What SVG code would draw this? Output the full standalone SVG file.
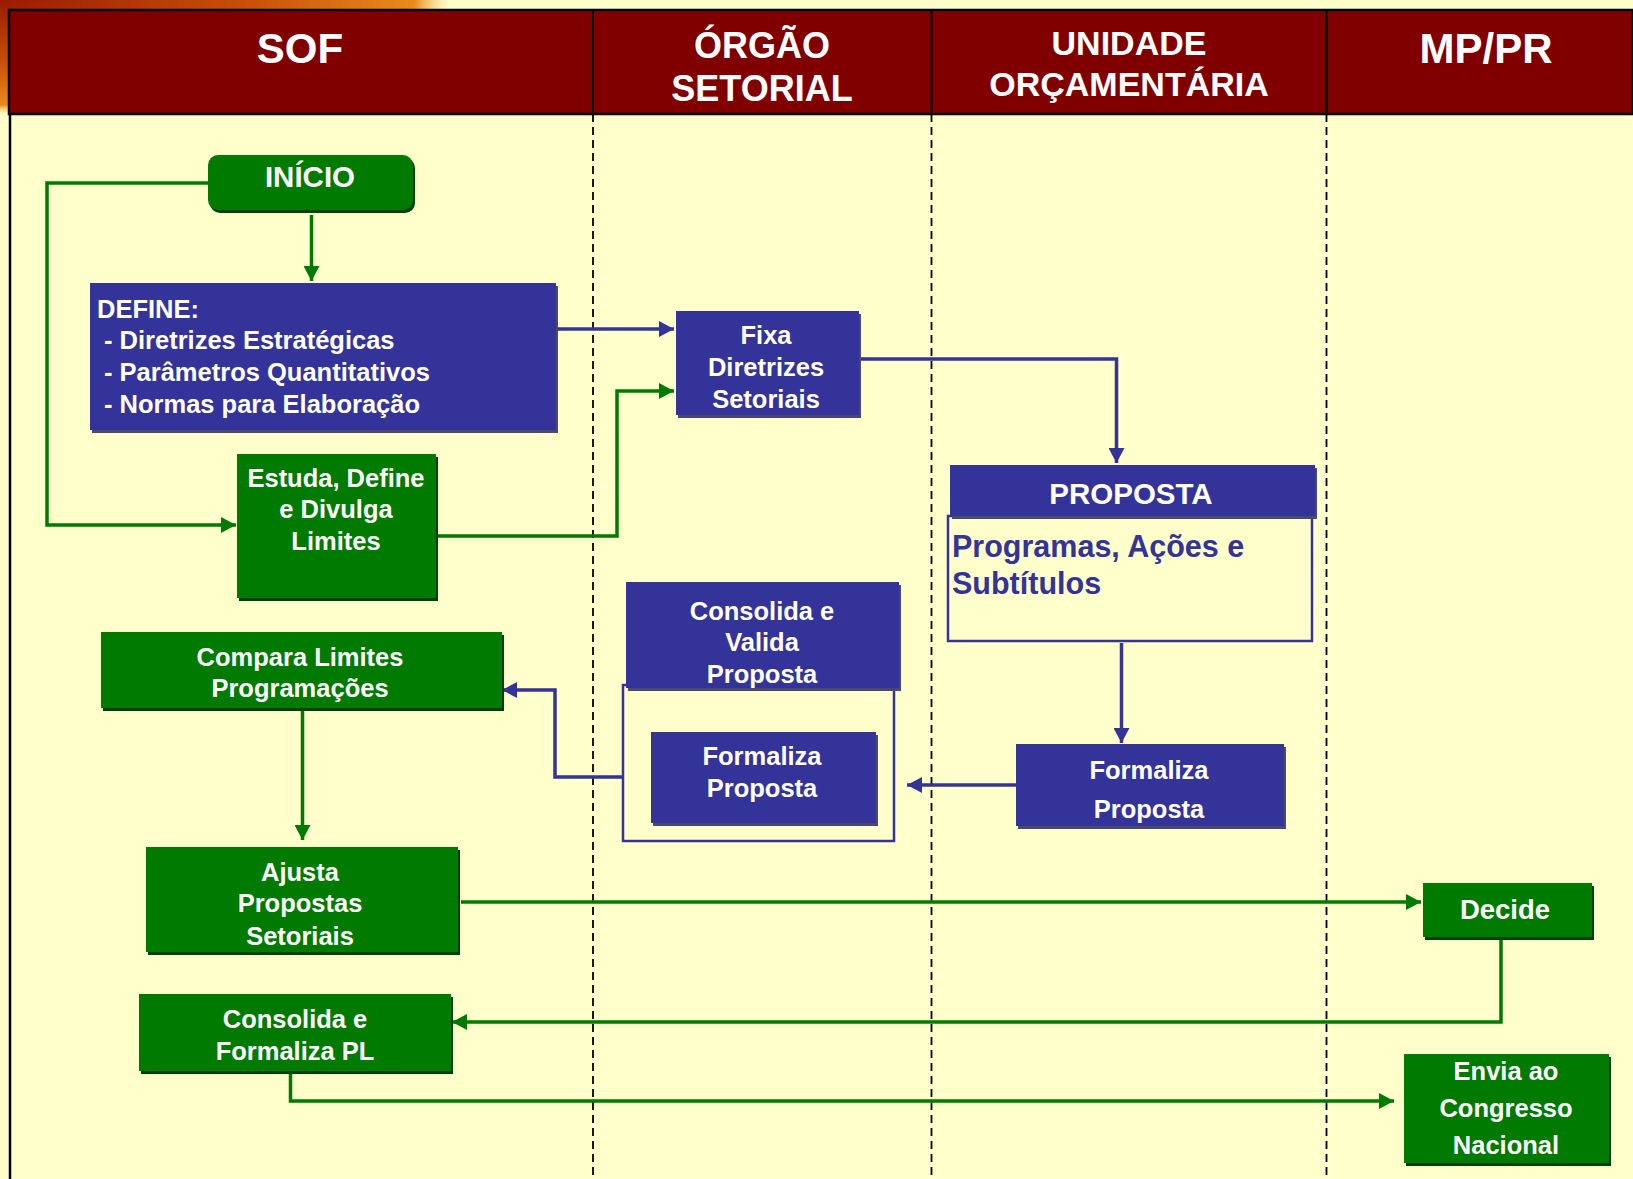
<svg xmlns="http://www.w3.org/2000/svg" width="1633" height="1179" viewBox="0 0 1633 1179">
<defs>
<radialGradient id="corner" cx="0.5" cy="0.5" r="0.5">
<stop offset="0" stop-color="#9A1A00"/>
<stop offset="0.55" stop-color="#C8500A"/>
<stop offset="0.92" stop-color="#E88A1C"/>
<stop offset="1" stop-color="#F6C060" stop-opacity="0"/>
</radialGradient>
<marker id="ag" markerUnits="userSpaceOnUse" markerWidth="16" markerHeight="16" refX="15" refY="8" orient="auto">
<path d="M0,0 L15,8 L0,16 z" fill="#007A00"/>
</marker>
<marker id="ab" markerUnits="userSpaceOnUse" markerWidth="16" markerHeight="16" refX="15" refY="8" orient="auto">
<path d="M0,0 L15,8 L0,16 z" fill="#333399"/>
</marker>
<style>
.hdr{font-family:"Liberation Sans",Arial,sans-serif;font-weight:bold;fill:#fff;text-anchor:middle}
.t{font-family:"Liberation Sans",Arial,sans-serif;font-weight:bold;font-size:25.5px;fill:#fff;text-anchor:middle}
.tl{font-family:"Liberation Sans",Arial,sans-serif;font-weight:bold;font-size:25.5px;fill:#fff}
.bt{font-family:"Liberation Sans",Arial,sans-serif;font-weight:bold;font-size:30.5px;fill:#333399}
.g{fill:#007A00}
.b{fill:#333399}
.gs{fill:#004000}
.bs{fill:#4a4a6e}
.out{fill:none;stroke:#333399;stroke-width:2.5}
.cg{fill:none;stroke:#007A00;stroke-width:3.5;marker-end:url(#ag)}
.cb{fill:none;stroke:#333399;stroke-width:3.5;marker-end:url(#ab)}
.lane{stroke:#000;stroke-width:1.8;stroke-dasharray:8 5}
</style>
</defs>
<rect x="0" y="0" width="1633" height="1179" fill="#FFFFCC"/>
<ellipse cx="0" cy="0" rx="450" ry="114" fill="url(#corner)"/>

<g id="header">
<rect x="9" y="10" width="1624" height="104" fill="#800000" stroke="#000" stroke-width="2.5"/>
<line x1="593" y1="10" x2="593" y2="114" stroke="#000" stroke-width="2"/>
<line x1="931.5" y1="10" x2="931.5" y2="114" stroke="#000" stroke-width="2"/>
<line x1="1326.5" y1="10" x2="1326.5" y2="114" stroke="#000" stroke-width="2"/>
<text class="hdr" x="300" y="63" font-size="42">SOF</text>
<text class="hdr" x="762" y="58" font-size="36">ÓRGÃO</text>
<text class="hdr" x="762" y="101" font-size="36">SETORIAL</text>
<text class="hdr" x="1129" y="55" font-size="34">UNIDADE</text>
<text class="hdr" x="1129" y="96" font-size="34">ORÇAMENTÁRIA</text>
<text class="hdr" x="1486" y="63" font-size="42">MP/PR</text>
</g>

<g id="lanes">
<line x1="10" y1="114" x2="10" y2="1179" stroke="#000" stroke-width="2.5"/>
<line class="lane" x1="593" y1="114" x2="593" y2="1179"/>
<line class="lane" x1="931.5" y1="114" x2="931.5" y2="1179"/>
<line class="lane" x1="1326.5" y1="114" x2="1326.5" y2="1179"/>
</g>

<g id="connectors">
<path class="cg" d="M311.5,215 L311.5,281"/>
<path class="cg" d="M208,183 L47,183 L47,525 L236,525"/>
<path class="cb" d="M556,329 L674,329"/>
<path class="cg" d="M436,536 L617,536 L617,391 L674,391"/>
<path class="cb" d="M859,359 L1116.5,359 L1116.5,463"/>
<path class="cb" d="M1121.5,643 L1121.5,743"/>
<path class="cb" d="M1016,785 L907,785"/>
<path class="cb" d="M623,777 L555,777 L555,690 L502,690" stroke-width="3"/>
<path class="cg" d="M302.5,708 L302.5,840"/>
<path class="cg" d="M461,902 L1421,902"/>
<path class="cg" d="M1501,937 L1501,1022 L452,1022"/>
<path class="cg" d="M290.5,1071 L290.5,1101 L1394,1101"/>
</g>

<g id="inicio">
<rect class="gs" x="210" y="158" width="205" height="55" rx="10"/>
<rect class="g" x="208" y="155" width="205" height="55" rx="10"/>
<text class="t" x="310" y="187" style="font-size:29.5px">INÍCIO</text>
</g>

<g id="define">
<rect class="bs" x="92" y="286" width="466" height="147"/>
<rect class="b" x="90" y="283" width="466" height="147"/>
<text class="tl" x="97" y="318">DEFINE:</text>
<text class="tl" x="104" y="349">- Diretrizes Estratégicas</text>
<text class="tl" x="104" y="381">- Parâmetros Quantitativos</text>
<text class="tl" x="104" y="413">- Normas para Elaboração</text>
</g>

<g id="fixa">
<rect class="bs" x="678" y="314" width="183" height="104"/>
<rect class="b" x="676" y="311" width="183" height="104"/>
<text class="t" x="766" y="344">Fixa</text>
<text class="t" x="766" y="376">Diretrizes</text>
<text class="t" x="766" y="408">Setoriais</text>
</g>

<g id="estuda">
<rect class="gs" x="239" y="457" width="199" height="144"/>
<rect class="g" x="237" y="454" width="199" height="144"/>
<text class="t" x="336" y="487">Estuda, Define</text>
<text class="t" x="336" y="518">e Divulga</text>
<text class="t" x="336" y="550">Limites</text>
</g>

<g id="proposta">
<rect class="out" x="948" y="516" width="364" height="125"/>
<rect class="bs" x="952" y="468" width="365" height="51"/>
<rect class="b" x="950" y="465" width="365" height="51"/>
<text class="t" x="1131" y="504" style="font-size:29.5px">PROPOSTA</text>
<text class="bt" x="952" y="557">Programas, Ações e</text>
<text class="bt" x="952" y="594">Subtítulos</text>
</g>

<g id="consolida-valida">
<rect class="out" x="623" y="685" width="271" height="156" stroke-width="2"/>
<rect class="bs" x="628" y="585" width="273" height="106"/>
<rect class="b" x="626" y="582" width="273" height="106"/>
<text class="t" x="762" y="620">Consolida e</text>
<text class="t" x="762" y="651">Valida</text>
<text class="t" x="762" y="683">Proposta</text>
</g>

<g id="formaliza-os">
<rect class="bs" x="653" y="735" width="225" height="91"/>
<rect class="b" x="651" y="732" width="225" height="91"/>
<text class="t" x="762" y="765">Formaliza</text>
<text class="t" x="762" y="797">Proposta</text>
</g>

<g id="compara">
<rect class="gs" x="103" y="635" width="401" height="76"/>
<rect class="g" x="101" y="632" width="401" height="76"/>
<text class="t" x="300" y="666">Compara Limites</text>
<text class="t" x="300" y="697">Programações</text>
</g>

<g id="formaliza-uo">
<rect class="bs" x="1018" y="747" width="268" height="82"/>
<rect class="b" x="1016" y="744" width="268" height="82"/>
<text class="t" x="1149" y="779">Formaliza</text>
<text class="t" x="1149" y="818">Proposta</text>
</g>

<g id="ajusta">
<rect class="gs" x="148" y="850" width="312" height="105"/>
<rect class="g" x="146" y="847" width="312" height="105"/>
<text class="t" x="300" y="881">Ajusta</text>
<text class="t" x="300" y="912">Propostas</text>
<text class="t" x="300" y="945">Setoriais</text>
</g>

<g id="decide">
<rect class="gs" x="1425" y="886" width="169" height="54"/>
<rect class="g" x="1423" y="883" width="169" height="54"/>
<text class="t" x="1505" y="919" style="font-size:27.5px">Decide</text>
</g>

<g id="consolida-pl">
<rect class="gs" x="141" y="997" width="312" height="77"/>
<rect class="g" x="139" y="994" width="312" height="77"/>
<text class="t" x="295" y="1028">Consolida e</text>
<text class="t" x="295" y="1060">Formaliza PL</text>
</g>

<g id="envia">
<rect class="gs" x="1406" y="1057" width="205" height="109"/>
<rect class="g" x="1404" y="1054" width="205" height="109"/>
<text class="t" x="1506" y="1080">Envia ao</text>
<text class="t" x="1506" y="1117">Congresso</text>
<text class="t" x="1506" y="1154">Nacional</text>
</g>
</svg>
